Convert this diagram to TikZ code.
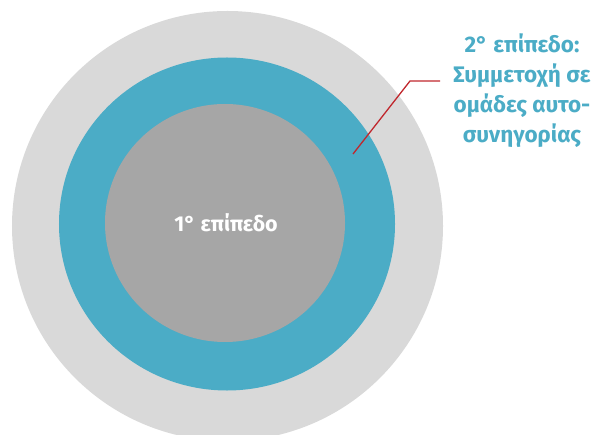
\documentclass[tikz,border=0pt]{standalone}
\usepackage{fontspec}
\setmainfont{Fira Sans}
\definecolor{ringlight}{HTML}{D9D9D9}
\definecolor{ringblue}{HTML}{4BACC6}
\definecolor{coregray}{HTML}{A6A6A6}
\definecolor{leader}{HTML}{C0272D}
\tikzset{
  lbl/.style={font=\bfseries\fontsize{22.5bp}{30bp}\selectfont, text=ringblue, align=center, inner sep=0pt},
  corelbl/.style={font=\bfseries\fontsize{21.5bp}{24bp}\selectfont, text=white, inner sep=0pt},
  leadline/.style={draw=leader, line width=1.3bp}
}
\begin{document}
\begin{tikzpicture}[x=1bp,y=-1bp]
\useasboundingbox (0,0) rectangle (596,435);
\begin{scope}
\clip (0,0) rectangle (596,435);
\fill[ringlight] (227.5,226) ellipse [x radius=215.5bp, y radius=215bp];
\end{scope}
\fill[ringblue] (227,224) ellipse [x radius=168bp, y radius=166.5bp];
\fill[coregray] (225,223) ellipse [x radius=120bp, y radius=119bp];
\node[corelbl] (core) at (226,223) {1° επίπεδο};
\node[lbl, anchor=center] (lvl2) at (522,91) {2° επίπεδο:\\Συμμετοχή σε\\ομάδες αυτο-\\συνηγορίας};
\coordinate (tip) at (353,154);
\coordinate (bend) at (410,81);
\coordinate (lend) at (440,81);
\draw[leadline] (tip) -- (bend) -- (lend);
\end{tikzpicture}
\end{document}
